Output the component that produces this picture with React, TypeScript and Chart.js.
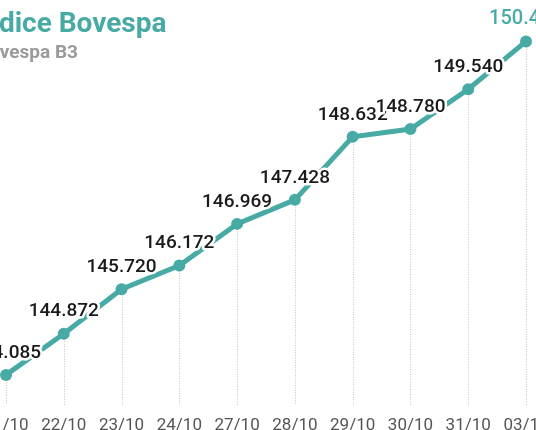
import { useEffect, useRef } from "react";
import { Chart, registerables, Plugin } from "chart.js";

Chart.register(...registerables);

const TEAL = "#48aaa5";

const dates = ["21/10", "22/10", "23/10", "24/10", "27/10", "28/10", "29/10", "30/10", "31/10", "03/11"];
const closes = [144.085, 144.872, 145.72, 146.172, 146.969, 147.428, 148.632, 148.78, 149.54, 150.454];
const yRange = [143.51, 151.13];

// dotted drop line from every point down to the axis
const dropLines: Plugin<"line"> = {
  id: "dropLines",
  beforeDatasetsDraw(chart) {
    const { ctx, chartArea } = chart;
    const meta = chart.getDatasetMeta(0);
    ctx.save();
    ctx.strokeStyle = "#c4c4c4";
    ctx.lineWidth = 1;
    ctx.setLineDash([1, 1.5]);
    meta.data.forEach((pt) => {
      const x = Math.round(pt.x) + 0.5;
      ctx.beginPath();
      ctx.moveTo(x, pt.y);
      ctx.lineTo(x, chartArea.bottom);
      ctx.stroke();
    });
    ctx.restore();
  },
};

// value above each point, with a white halo
const valueLabels: Plugin<"line"> = {
  id: "valueLabels",
  afterDatasetsDraw(chart) {
    const { ctx } = chart;
    const meta = chart.getDatasetMeta(0);
    const last = meta.data.length - 1;
    ctx.save();
    ctx.textAlign = "center";
    ctx.textBaseline = "middle";
    ctx.lineJoin = "round";
    meta.data.forEach((pt, i) => {
      const text = closes[i].toFixed(3);
      ctx.font = i === last ? "500 20px Roboto" : "500 19px Roboto";
      const y = pt.y - 22;
      ctx.strokeStyle = "#ffffff";
      ctx.lineWidth = 5;
      ctx.strokeText(text, pt.x, y);
      ctx.fillStyle = i === last ? TEAL : "#1a1a1a";
      ctx.fillText(text, pt.x, y);
    });
    ctx.restore();
  },
};

export default function App() {
  const canvasRef = useRef<HTMLCanvasElement>(null);
  const chartRef = useRef<Chart | null>(null);

  useEffect(() => {
    if (!canvasRef.current) return;
    if (chartRef.current) chartRef.current.destroy();

    chartRef.current = new Chart(canvasRef.current, {
      type: "line",
      data: {
        labels: dates,
        datasets: [
          {
            data: closes,
            borderColor: TEAL,
            backgroundColor: TEAL,
            borderWidth: 5,
            pointRadius: 6,
            pointBorderWidth: 0,
            pointBackgroundColor: TEAL,
            tension: 0,
          },
        ],
      },
      options: {
        animation: false,
        responsive: true,
        maintainAspectRatio: false,
        layout: { padding: { left: 28, right: 32, top: 0, bottom: 0 } },
        plugins: {
          legend: { display: false },
          tooltip: { enabled: false },
        },
        scales: {
          x: {
            offset: false,
            grid: { display: false },
            border: { display: false },
            ticks: {
              color: "#555555",
              font: { family: "Roboto", size: 17 },
              padding: 3,
              maxRotation: 0,
              autoSkip: false,
            },
            afterFit: (axis) => {
              axis.height = 25;
            },
          },
          y: {
            display: false,
            min: yRange[0],
            max: yRange[1],
          },
        },
      },
      plugins: [dropLines, valueLabels],
    });

    return () => {
      if (chartRef.current) {
        chartRef.current.destroy();
        chartRef.current = null;
      }
    };
  }, []);

  return (
    <div
      style={{
        position: "fixed",
        left: 0,
        top: 0,
        width: 536,
        height: 430,
        overflow: "hidden",
        background: "#ffffff",
        fontFamily: "Roboto",
      }}
    >
      <div style={{ position: "absolute", left: -22, top: 0, width: 580, height: 430 }}>
        <canvas ref={canvasRef} />
      </div>
      <div
        style={{
          position: "absolute",
          left: -25,
          top: 7,
          fontSize: 28,
          fontWeight: 700,
          color: TEAL,
          lineHeight: "32px",
          whiteSpace: "nowrap",
        }}
      >
        Índice Bovespa
      </div>
      <div
        style={{
          position: "absolute",
          left: -27,
          top: 40,
          fontSize: 19,
          fontWeight: 700,
          color: "#9a9a9a",
          lineHeight: "24px",
          whiteSpace: "nowrap",
        }}
      >
        Ibovespa B3
      </div>
    </div>
  );
}
